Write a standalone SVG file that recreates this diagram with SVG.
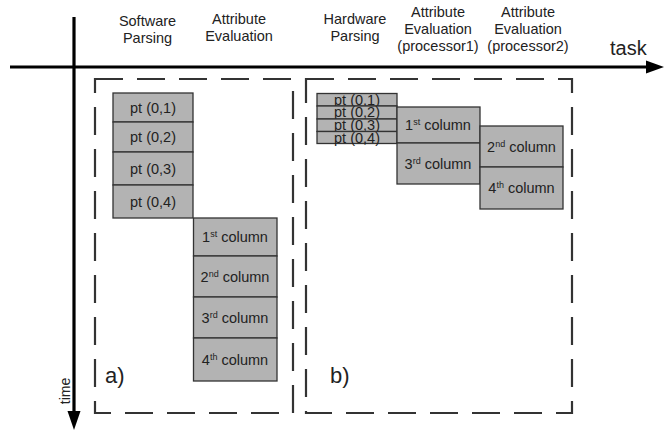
<svg xmlns="http://www.w3.org/2000/svg" width="664" height="430" viewBox="0 0 664 430">
<defs>
<style>
text{font-family:"Liberation Sans",Arial,sans-serif;fill:#222;}
.h{font-size:14.5px;text-anchor:middle;}
.c{font-size:14.5px;text-anchor:middle;}
.sup{font-size:9px;}
.cell{fill:#b3b3b3;stroke:#333;stroke-width:1.3;}
.frame{fill:none;stroke:#333;stroke-width:2.2;stroke-dasharray:28 14;}
.axis{stroke:#000;stroke-width:3.2;fill:none;}
</style>
</defs>
<rect width="664" height="430" fill="#fff"/>
<g id="connectors">
<line class="axis" x1="10" y1="67" x2="650" y2="67"/>
<polygon points="646,60.5 664,67 646,73.5" fill="#000"/>
<line class="axis" x1="74" y1="17" x2="74" y2="414"/>
<polygon points="67.5,411 80.5,411 74,430" fill="#000"/>
</g>
<g id="labels">
<text x="610" y="55" style="font-size:20px">task</text>
<text transform="translate(70,391) rotate(-90)" style="font-size:14px;text-anchor:middle">time</text>
<text class="h" x="147.5" y="26">Software</text>
<text class="h" x="147.5" y="43">Parsing</text>
<text class="h" x="239" y="24">Attribute</text>
<text class="h" x="239" y="41">Evaluation</text>
<text class="h" x="355" y="24">Hardware</text>
<text class="h" x="355" y="41">Parsing</text>
<text class="h" x="438" y="17">Attribute</text>
<text class="h" x="438" y="34">Evaluation</text>
<text class="h" x="438" y="51">(processor1)</text>
<text class="h" x="528" y="17">Attribute</text>
<text class="h" x="528" y="34">Evaluation</text>
<text class="h" x="528" y="51">(processor2)</text>
</g>
<g id="frame-a">
<rect class="frame" x="95" y="79" width="198" height="334"/>
<text x="105" y="383" style="font-size:22px">a)</text>
</g>
<g id="frame-b">
<rect class="frame" x="306" y="79" width="266" height="334"/>
<text x="330" y="383" style="font-size:22px">b)</text>
</g>
<g id="a-pt1"><rect class="cell" x="113" y="93" width="80" height="29"/><text class="c" x="153" y="112.5">pt (0,1)</text></g>
<g id="a-pt2"><rect class="cell" x="113" y="122" width="80" height="30"/><text class="c" x="153" y="142">pt (0,2)</text></g>
<g id="a-pt3"><rect class="cell" x="113" y="152" width="80" height="33"/><text class="c" x="153" y="173.5">pt (0,3)</text></g>
<g id="a-pt4"><rect class="cell" x="113" y="185" width="80" height="33"/><text class="c" x="153" y="206.5">pt (0,4)</text></g>
<g id="a-col1"><rect class="cell" x="193.5" y="218" width="83.5" height="38"/><text class="c" x="235" y="242">1<tspan class="sup" dy="-5">st</tspan><tspan dy="5"> column</tspan></text></g>
<g id="a-col2"><rect class="cell" x="193.5" y="256" width="83.5" height="41"/><text class="c" x="235" y="281.5">2<tspan class="sup" dy="-5">nd</tspan><tspan dy="5"> column</tspan></text></g>
<g id="a-col3"><rect class="cell" x="193.5" y="297" width="83.5" height="41"/><text class="c" x="235" y="322.5">3<tspan class="sup" dy="-5">rd</tspan><tspan dy="5"> column</tspan></text></g>
<g id="a-col4"><rect class="cell" x="193.5" y="338" width="83.5" height="43"/><text class="c" x="235" y="364.5">4<tspan class="sup" dy="-5">th</tspan><tspan dy="5"> column</tspan></text></g>
<g id="b-pt1"><rect class="cell" x="317" y="93.5" width="80" height="12.5"/><text class="c" x="357" y="104.5">pt (0,1)</text></g>
<g id="b-pt2"><rect class="cell" x="317" y="106" width="80" height="13"/><text class="c" x="357" y="117">pt (0,2)</text></g>
<g id="b-pt3"><rect class="cell" x="317" y="119" width="80" height="12.5"/><text class="c" x="357" y="130">pt (0,3)</text></g>
<g id="b-pt4"><rect class="cell" x="317" y="131.5" width="80" height="12"/><text class="c" x="357" y="142.5">pt (0,4)</text></g>
<g id="b-col1"><rect class="cell" x="397" y="107" width="83" height="36"/><text class="c" x="438" y="130">1<tspan class="sup" dy="-5">st</tspan><tspan dy="5"> column</tspan></text></g>
<g id="b-col3"><rect class="cell" x="397" y="143" width="83" height="41"/><text class="c" x="438" y="168.5">3<tspan class="sup" dy="-5">rd</tspan><tspan dy="5"> column</tspan></text></g>
<g id="b-col2"><rect class="cell" x="480" y="126" width="83" height="41"/><text class="c" x="521.5" y="151.5">2<tspan class="sup" dy="-5">nd</tspan><tspan dy="5"> column</tspan></text></g>
<g id="b-col4"><rect class="cell" x="480" y="167" width="83" height="42"/><text class="c" x="521.5" y="193">4<tspan class="sup" dy="-5">th</tspan><tspan dy="5"> column</tspan></text></g>
</svg>
